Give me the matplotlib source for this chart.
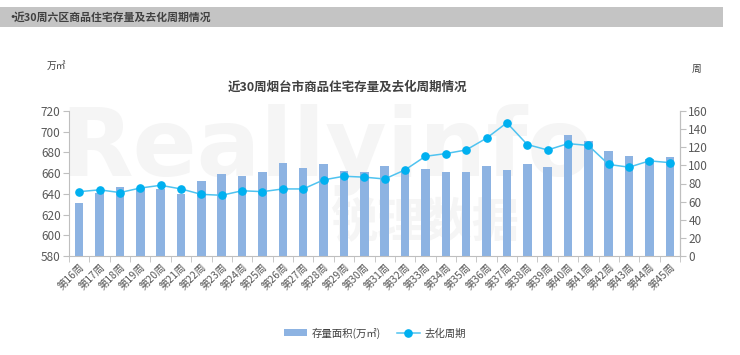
import matplotlib
matplotlib.use("Agg")
import matplotlib.pyplot as plt
from matplotlib.patches import Rectangle

plt.rcParams['font.family'] = ['Noto Sans CJK SC', 'DejaVu Sans']

weeks = [f"第{i}周" for i in range(16, 46)]
stock = [631, 641, 647, 646, 645, 640, 652, 659, 657, 661,
         670, 665, 669, 662, 661, 667, 663, 664, 661, 661,
         667, 663, 669, 666, 697, 691, 681, 677, 674, 676]
cycle = [71, 73, 70, 75, 78, 74, 68, 67, 72, 71,
         74, 74, 84, 88, 87, 85, 95, 110, 113, 117,
         130, 147, 123, 117, 124, 122, 101, 98, 105, 103]

W, H = 740, 355
fig = plt.figure(figsize=(W / 100, H / 100), dpi=100)
fig.patch.set_facecolor('white')

# header band
fig.patches.append(Rectangle((0, 1 - 27 / H), 723 / W, 20 / H, transform=fig.transFigure,
                             facecolor='#C4C4C4', edgecolor='none', zorder=0))
fig.text(9 / W, 1 - 17 / H, "•", fontsize=7.8, family='DejaVu Sans',
         color='#404040', va='center', ha='left')
fig.text(14 / W, 1 - 17 / H, "近30周六区商品住宅存量及去化周期情况", fontsize=7.8,
         fontweight='bold', color='#404040', va='center', ha='left')

ax = fig.add_axes([69 / W, 1 - 256 / H, (680 - 69) / W, (256 - 111) / H])
ax.patch.set_alpha(0)

# watermark (behind the data)
ax.text(60 / W, 1 - 150 / H, "Reallyinfo", transform=fig.transFigure, fontsize=68,
        fontweight='bold', color='#F5F5F5', va='center', ha='left', zorder=0.5,
        family='DejaVu Sans', clip_on=False)
ax.text(330 / W, 1 - 222 / H, "锐理数据", transform=fig.transFigure, fontsize=34,
        fontweight='bold', color='#F5F5F5', va='center', ha='left', zorder=0.5, clip_on=False)

x = list(range(len(weeks)))
ax.bar(x, stock, width=0.42, color='#8DB3E2', zorder=2, label='存量面积(万㎡)')
ax.set_ylim(580, 720)
ax.set_yticks(range(580, 721, 20))
ax.set_xlim(-0.5, len(weeks) - 0.5)
ax.set_xticks(x)
ax.set_xticklabels(weeks, rotation=45, ha='right', rotation_mode='anchor', fontsize=7.5, color='#595959')
ax.set_xticks([i - 0.5 for i in range(len(weeks) + 1)], minor=True)
ax.tick_params(axis='x', which='major', length=0, pad=4)
ax.tick_params(axis='x', which='minor', length=4, color='#BFBFBF')
ax.tick_params(axis='y', labelsize=8.5, labelcolor='#595959', length=4, color='#BFBFBF', pad=2)
ax.spines['top'].set_visible(False)
for s in ['left', 'bottom', 'right']:
    ax.spines[s].set_color('#BFBFBF')

ax2 = ax.twinx()
ax2.plot(x, cycle, color='#4FC3F0', linewidth=1.1, marker='o', markersize=5.2,
         markerfacecolor='#00B0F0', markeredgecolor='#00B0F0', zorder=3, label='去化周期')
ax2.set_ylim(0, 160)
ax2.set_yticks(range(0, 161, 20))
ax2.tick_params(axis='y', labelsize=8.5, labelcolor='#595959', length=4, color='#BFBFBF', pad=2)
for s in ['top', 'left', 'bottom']:
    ax2.spines[s].set_visible(False)
ax2.spines['right'].set_color('#BFBFBF')

fig.text(348 / W, 1 - 87 / H, "近30周烟台市商品住宅存量及去化周期情况", fontsize=9,
         fontweight='bold', color='#404040', va='center', ha='center')
fig.text(47 / W, 1 - 66 / H, "万㎡", fontsize=7, color='#404040', va='center', ha='left')
fig.text(692 / W, 1 - 69 / H, "周", fontsize=7, color='#404040', va='center', ha='left')

h1, l1 = ax.get_legend_handles_labels()
h2, l2 = ax2.get_legend_handles_labels()
fig.legend(h1 + h2, l1 + l2, loc='center', bbox_to_anchor=(375 / W, 1 - 333 / H), ncol=2,
           frameon=False, fontsize=7.5, handlelength=2.2, handletextpad=0.5,
           columnspacing=1.5, labelcolor='#404040')

fig.savefig('out.png', dpi=100)
